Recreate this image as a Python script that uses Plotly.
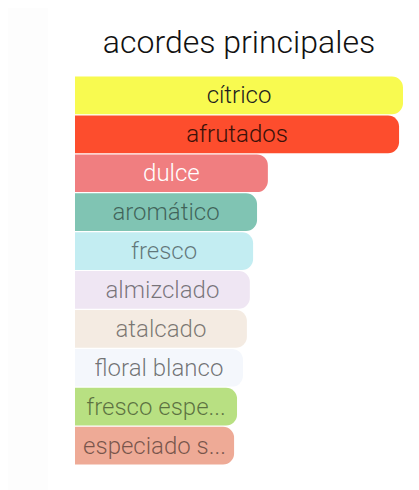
import plotly.graph_objects as go

# acordes principales (top accords)
accords = ["cítrico", "afrutados", "dulce", "aromático", "fresco", "almizclado",
           "atalcado", "floral blanco", "fresco espe...", "especiado s..."]
strength = [100, 98.8, 58.8, 55.5, 54.3, 53.3, 52.4, 51.2, 49.4, 48.5]
bar_colors = ["#F8FA50", "#FD4D2D", "#F07E80", "#80C4B3", "#C3EDF2", "#EFE6F3",
              "#F4EBE2", "#F4F7FC", "#B8E082", "#EEAA96"]
text_colors = ["#1e1e1e", "#3b1109", "#ffffff", "rgba(0,0,0,0.5)", "rgba(0,0,0,0.5)",
               "rgba(0,0,0,0.5)", "rgba(0,0,0,0.5)", "rgba(0,0,0,0.55)",
               "rgba(0,0,0,0.5)", "rgba(0,0,0,0.5)"]

# the page adds an 8px body margin, so the figure is 8px smaller each way
W, H = 411, 482

fig = go.Figure(go.Bar(
    x=strength,
    y=accords,
    orientation="h",
    marker=dict(color=bar_colors, line=dict(width=0)),
    text=accords,
    textposition="inside",
    insidetextanchor="middle",
    constraintext="none",
    textfont=dict(family="Roboto", size=24, weight=300, color=text_colors),
    hoverinfo="x+y",
))

fig.update_layout(
    width=W, height=H,
    margin=dict(l=67, r=16, t=68, b=25),
    title=dict(text="acordes principales", x=0.5, xref="paper", xanchor="center",
               y=1 - 34 / H, yanchor="middle",
               font=dict(family="Roboto", size=32, weight=300, color="#111111")),
    paper_bgcolor="white", plot_bgcolor="white",
    bargap=0.03,
    barcornerradius=11,
    showlegend=False,
    xaxis=dict(range=[0, 100], visible=False, fixedrange=True),
    yaxis=dict(autorange="reversed", visible=False, fixedrange=True),
    shapes=[
        # faint side panel and page edge seen in the screenshot
        dict(type="rect", xref="paper", yref="paper", x0=-67 / 328, x1=-27 / 328,
             y0=-25 / 389, y1=1 + 68 / 389, fillcolor="#fdfdfd", line=dict(width=0),
             layer="below"),
        dict(type="line", xref="paper", yref="paper", x0=341 / 328, x1=341 / 328,
             y0=-25 / 389, y1=1 + 68 / 389, line=dict(color="#ececec", width=1.5)),
    ],
)

fig.write_html("out.html")
